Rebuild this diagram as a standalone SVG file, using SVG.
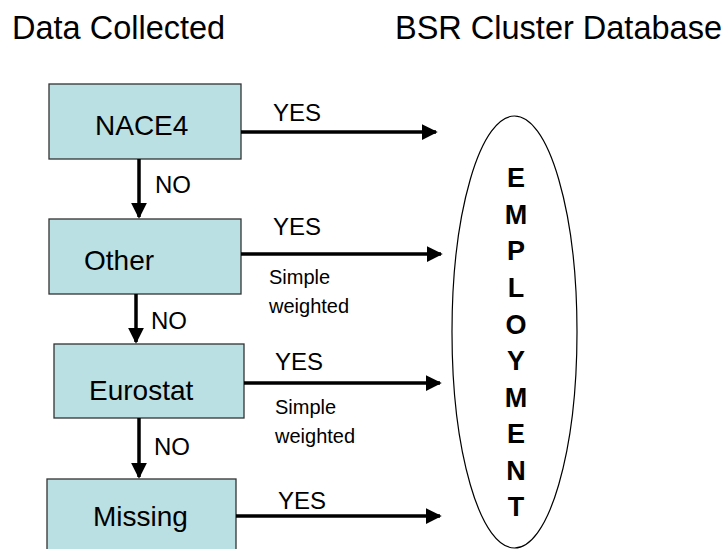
<svg xmlns="http://www.w3.org/2000/svg" width="727" height="549" viewBox="0 0 727 549">
<style>
text{font-family:"Liberation Sans",Arial,sans-serif;fill:#000}
.hdr{font-size:32.5px}
.box{fill:#bbe0e3;stroke:#333;stroke-width:1.3}
.lbl{font-size:28px}
.yn{font-size:24px}
.sm{font-size:20px}
.emp{font-size:27px;font-weight:bold;text-anchor:middle}
.ar{stroke:#000;stroke-width:3.5;fill:none;marker-end:url(#ah)}
</style>
<defs>
<marker id="ah" markerWidth="4.5" markerHeight="4.5" refX="4" refY="2.25" orient="auto" markerUnits="strokeWidth">
<path d="M0,0 L4.5,2.25 L0,4.5 Z" fill="#000"/>
</marker>
</defs>
<text class="hdr" x="12" y="39">Data Collected</text>
<text class="hdr" x="395" y="39">BSR Cluster Database</text>
<g id="nace4"><rect class="box" x="49" y="84" width="192" height="75"/><text class="lbl" x="95" y="135">NACE4</text></g>
<g id="other"><rect class="box" x="49" y="219" width="192" height="75"/><text class="lbl" x="84" y="270">Other</text></g>
<g id="eurostat"><rect class="box" x="54" y="344" width="190" height="74"/><text class="lbl" x="89" y="400">Eurostat</text></g>
<g id="missing"><rect class="box" x="47" y="479" width="189" height="80"/><text class="lbl" x="93" y="526">Missing</text></g>
<g id="employment">
<ellipse cx="514.5" cy="332" rx="62.5" ry="216" fill="none" stroke="#000" stroke-width="1.2"/>
<text class="emp" x="516" y="187">E</text>
<text class="emp" x="516" y="224">M</text>
<text class="emp" x="516" y="260">P</text>
<text class="emp" x="516" y="297">L</text>
<text class="emp" x="516" y="334">O</text>
<text class="emp" x="516" y="370">Y</text>
<text class="emp" x="516" y="407">M</text>
<text class="emp" x="516" y="443">E</text>
<text class="emp" x="516" y="480">N</text>
<text class="emp" x="516" y="516">T</text>
</g>
<g id="connectors">
<line class="ar" x1="139" y1="159" x2="139" y2="217"/>
<line class="ar" x1="136" y1="294" x2="136" y2="342"/>
<line class="ar" x1="139" y1="418" x2="139" y2="477"/>
<line class="ar" x1="241" y1="132" x2="436" y2="132"/>
<line class="ar" x1="241" y1="254" x2="441" y2="254"/>
<line class="ar" x1="244" y1="383" x2="440" y2="383"/>
<line class="ar" x1="236" y1="516" x2="440" y2="516"/>
<text class="yn" x="155" y="193">NO</text>
<text class="yn" x="151" y="329">NO</text>
<text class="yn" x="154" y="455">NO</text>
<text class="yn" x="273" y="121">YES</text>
<text class="yn" x="273" y="235">YES</text>
<text class="yn" x="275" y="370">YES</text>
<text class="yn" x="278" y="509">YES</text>
<text class="sm" x="269" y="284">Simple</text>
<text class="sm" x="269" y="313">weighted</text>
<text class="sm" x="275" y="414">Simple</text>
<text class="sm" x="275" y="443">weighted</text>
</g>
</svg>
